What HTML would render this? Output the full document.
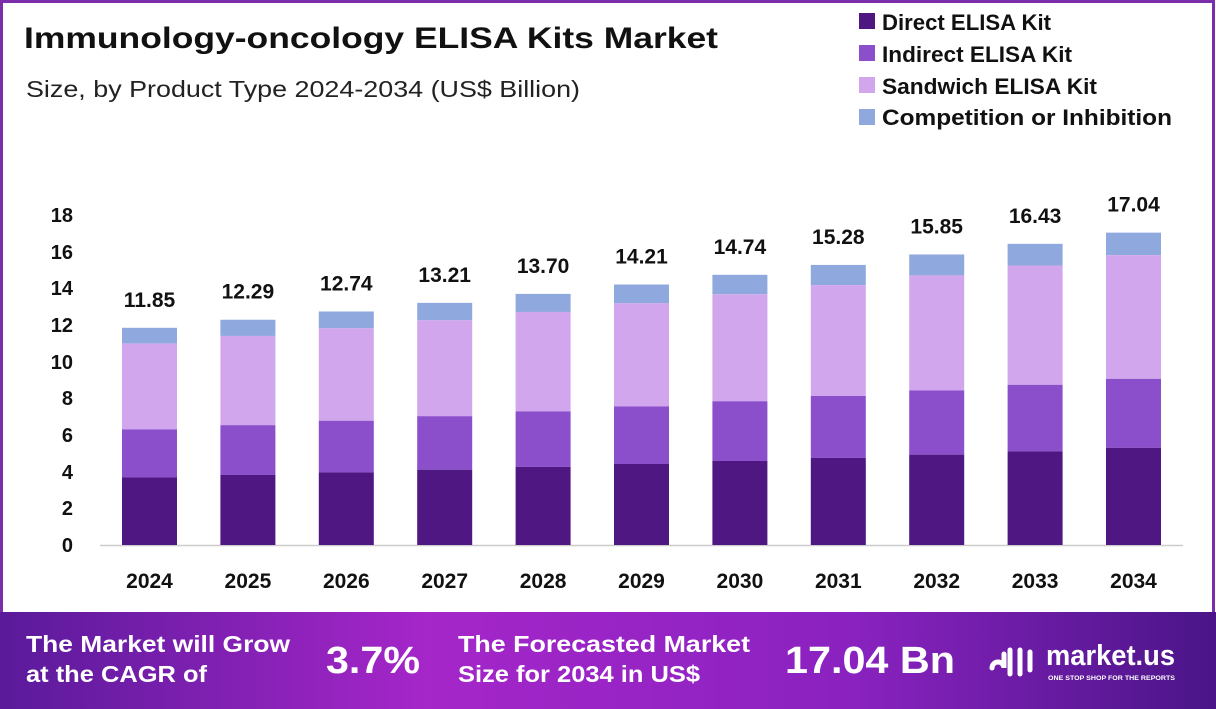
<!DOCTYPE html>
<html><head><meta charset="utf-8"><style>
html,body{margin:0;padding:0;width:1216px;height:709px;overflow:hidden;background:#fff;font-family:"Liberation Sans",sans-serif;}
</style></head><body>
<svg width="1216" height="709" viewBox="0 0 1216 709" xmlns="http://www.w3.org/2000/svg" font-family="Liberation Sans, sans-serif">
<defs>
<linearGradient id="ft" x1="0" x2="1" y1="0" y2="0">
<stop offset="0" stop-color="#5a1a9a"/><stop offset="0.35" stop-color="#a526c9"/><stop offset="0.7" stop-color="#8a22c0"/><stop offset="1" stop-color="#4a1588"/>
</linearGradient>
</defs>
<rect x="1.5" y="1.5" width="1212" height="620" fill="#fff" stroke="#7a2eaa" stroke-width="3"/>
<text x="24" y="48" font-size="30" font-weight="bold" fill="#111" textLength="694" lengthAdjust="spacingAndGlyphs">Immunology-oncology  ELISA Kits Market</text>
<text x="26" y="97" font-size="23" fill="#222" textLength="554" lengthAdjust="spacingAndGlyphs">Size, by Product Type 2024-2034 (US$ Billion)</text>
<g font-size="22" font-weight="bold" fill="#111">
<rect x="859" y="13" width="16" height="16" fill="#4e1782"/><text x="882" y="30" textLength="169" lengthAdjust="spacingAndGlyphs">Direct ELISA Kit</text>
<rect x="859" y="45" width="16" height="16" fill="#8b4fcc"/><text x="882" y="62" textLength="190" lengthAdjust="spacingAndGlyphs">Indirect ELISA Kit</text>
<rect x="859" y="77" width="16" height="16" fill="#d2a6ec"/><text x="882" y="94" textLength="215" lengthAdjust="spacingAndGlyphs">Sandwich ELISA Kit</text>
<rect x="859" y="109" width="16" height="16" fill="#8fa8dd"/><text x="882" y="125" textLength="290" lengthAdjust="spacingAndGlyphs">Competition or Inhibition</text>
</g>
<g font-size="20" font-weight="bold" fill="#111" text-anchor="end">
<text x="73" y="222">18</text><text x="73" y="259">16</text><text x="73" y="295">14</text><text x="73" y="332">12</text><text x="73" y="369">10</text><text x="73" y="405">8</text><text x="73" y="442">6</text><text x="73" y="479">4</text><text x="73" y="515">2</text><text x="73" y="552">0</text>
</g>
<line x1="100" y1="545.5" x2="1183" y2="545.5" stroke="#ccc" stroke-width="1.5"/>
<g id="bars"></g>
<rect x="0" y="612" width="1216" height="97" fill="url(#ft)"/>
<g fill="#fff" font-weight="bold">
<text x="26" y="652" font-size="23" textLength="264" lengthAdjust="spacingAndGlyphs">The Market will Grow</text>
<text x="26" y="682" font-size="23" textLength="181" lengthAdjust="spacingAndGlyphs">at the CAGR of</text>
<text x="326" y="673" font-size="38" textLength="94" lengthAdjust="spacingAndGlyphs">3.7%</text>
<text x="458" y="652" font-size="23" textLength="292" lengthAdjust="spacingAndGlyphs">The Forecasted Market</text>
<text x="458" y="682" font-size="23" textLength="242" lengthAdjust="spacingAndGlyphs">Size for 2034 in US$</text>
<text x="785" y="673" font-size="38" textLength="170" lengthAdjust="spacingAndGlyphs">17.04 Bn</text>
<text x="1046" y="665" font-size="29" textLength="129" lengthAdjust="spacingAndGlyphs">market.us</text>
<text x="1048" y="680" font-size="6.5" textLength="127" lengthAdjust="spacingAndGlyphs">ONE STOP SHOP FOR THE REPORTS</text>
<path d="M992 668 a6 6 0 0 1 12 0 v-14 M1010 650 v24 M1020 650 v24 M1030 652 v18" stroke="#fff" stroke-width="5" fill="none" stroke-linecap="round"/>
</g>
</svg>
<script>
var T=[11.85,12.29,12.74,13.21,13.70,14.21,14.74,15.28,15.85,16.43,17.04];
var k=18.33,b=545,g=document.getElementById('bars'),s='';
T.forEach(function(t,i){
 var x=122+i*98.4,w=55,h=t*k;
 var d=0.311*h,ii=0.532*h,sa=0.928*h;
 s+='<rect x="'+x+'" y="'+(b-h)+'" width="'+w+'" height="'+(h-sa)+'" fill="#8fa8dd"/>';
 s+='<rect x="'+x+'" y="'+(b-sa)+'" width="'+w+'" height="'+(sa-ii)+'" fill="#d2a6ec"/>';
 s+='<rect x="'+x+'" y="'+(b-ii)+'" width="'+w+'" height="'+(ii-d)+'" fill="#8b4fcc"/>';
 s+='<rect x="'+x+'" y="'+(b-d)+'" width="'+w+'" height="'+d+'" fill="#4e1782"/>';
 s+='<text x="'+(x+w/2)+'" y="'+(b-h-21)+'" font-size="21" font-weight="bold" fill="#111" text-anchor="middle">'+t.toFixed(2)+'</text>';
 s+='<text x="'+(x+w/2)+'" y="588" font-size="21" font-weight="bold" fill="#111" text-anchor="middle">'+(2024+i)+'</text>';
});
g.innerHTML=s;
</script>
</body></html>
